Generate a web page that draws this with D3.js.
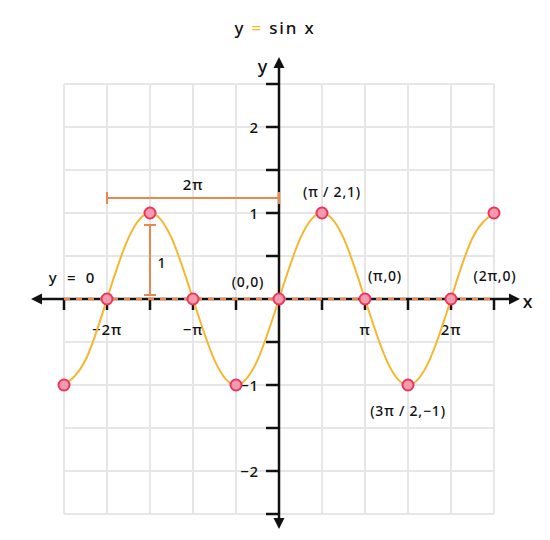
<!DOCTYPE html>
<html>
<head>
<meta charset="utf-8">
<title>y = sin x</title>
<script src="https://d3js.org/d3.v7.min.js"></script>
<style>
  body { margin: 0; background: #fff; }
  text { font-family: "Noto Sans", "DejaVu Sans", sans-serif; fill: #111; font-weight: 500; letter-spacing: 0.8px; }
</style>
</head>
<body>
<div id="chart"></div>
<script>
// x values are in units of pi
const curveX = [-2.5, -2.25, -2, -1.75, -1.5, -1.25, -1, -0.75, -0.5, -0.25, 0,
                0.25, 0.5, 0.75, 1, 1.25, 1.5, 1.75, 2, 2.25, 2.5];
const curveY = [-1, -0.71, 0, 0.71, 1, 0.71, 0, -0.71, -1, -0.71, 0,
                0.71, 1, 0.71, 0, -0.71, -1, -0.71, 0, 0.71, 1];
const dotX = [-2.5, -2, -1.5, -1, -0.5, 0, 0.5, 1, 1.5, 2, 2.5];
const dotY = [-1, 0, 1, 0, -1, 0, 1, 0, -1, 0, 1];
const xTicks = [-2.5, -2, -1.5, -1, -0.5, 0.5, 1, 1.5, 2, 2.5];
const xTickLabels = { "-2": "\u22122\u03c0", "-1": "\u2212\u03c0", "1": "\u03c0", "2": "2\u03c0" };
const yTicks = [-2.5, -2, -1.5, -1, -0.5, 0.5, 1, 1.5, 2, 2.5];
const yTickLabels = { "-2": "\u22122", "-1": "\u22121", "1": "1", "2": "2" };
const gridX = [-2.5, -2, -1.5, -1, -0.5, 0, 0.5, 1, 1.5, 2, 2.5];
const gridY = [-2.5, -2, -1.5, -1, -0.5, 0, 0.5, 1, 1.5, 2, 2.5];
const pointLabels = [
  { x: 0, y: 0, text: "(0,0)", dx: -31, dy: -12 },
  { x: 0.5, y: 1, text: "(\u03c0 / 2,1)", dx: 10, dy: -16 },
  { x: 1, y: 0, text: "(\u03c0,0)", dx: 20, dy: -18 },
  { x: 2, y: 0, text: "(2\u03c0,0)", dx: 44, dy: -18 },
  { x: 1.5, y: -1, text: "(3\u03c0 / 2,\u22121)", dx: 0, dy: 31 }
];

const width = 550, height = 540;
const orange = "#e8874f", gold = "#f5b731";

const svg = d3.select("#chart").append("svg")
  .attr("width", width).attr("height", height);

const x = d3.scaleLinear().domain([-2.5, 2.5]).range([64, 494]);
const y = d3.scaleLinear().domain([-2.5, 2.5]).range([514, 84]);

// title
const title = svg.append("text").attr("x", 275).attr("y", 34)
  .attr("text-anchor", "middle").style("font-size", "17px").style("letter-spacing", "1.8px");
title.append("tspan").text("y ");
title.append("tspan").text("=").style("fill", gold);
title.append("tspan").text(" sin x");

// grid
svg.append("g").selectAll("line").data(gridX).join("line")
  .attr("x1", d => x(d)).attr("x2", d => x(d))
  .attr("y1", y(2.5)).attr("y2", y(-2.5))
  .attr("stroke", "#e6e6e6").attr("stroke-width", 2);
svg.append("g").selectAll("line").data(gridY).join("line")
  .attr("y1", d => y(d)).attr("y2", d => y(d))
  .attr("x1", x(-2.5)).attr("x2", x(2.5))
  .attr("stroke", "#e6e6e6").attr("stroke-width", 2);

// arrow markers
const defs = svg.append("defs");
defs.append("marker").attr("id", "arr").attr("viewBox", "0 0 10 10")
  .attr("refX", 2).attr("refY", 5).attr("markerWidth", 4.5).attr("markerHeight", 4.5)
  .attr("orient", "auto-start-reverse")
  .append("path").attr("d", "M0,0 L10,5 L0,10 z").attr("fill", "#111");

// x axis
svg.append("line").attr("x1", 40).attr("x2", 511)
  .attr("y1", y(0)).attr("y2", y(0))
  .attr("stroke", "#111").attr("stroke-width", 2.5)
  .attr("marker-start", "url(#arr)").attr("marker-end", "url(#arr)");
svg.append("g").selectAll("line").data(xTicks).join("line")
  .attr("x1", d => x(d)).attr("x2", d => x(d))
  .attr("y1", y(0)).attr("y2", y(0) + 11)
  .attr("stroke", "#111").attr("stroke-width", 2.5);
svg.append("g").selectAll("text").data(xTicks.filter(d => xTickLabels[d])).join("text")
  .attr("x", d => x(d)).attr("y", d => y(0) + 36)
  .attr("text-anchor", "middle").style("font-size", "15px")
  .text(d => xTickLabels[d]);
svg.append("text").attr("x", 528).attr("y", y(0) + 9)
  .attr("text-anchor", "middle").style("font-size", "18px").text("x");

// y axis
svg.append("line").attr("x1", x(0)).attr("x2", x(0))
  .attr("y1", 520).attr("y2", 66)
  .attr("stroke", "#111").attr("stroke-width", 2.5)
  .attr("marker-start", "url(#arr)").attr("marker-end", "url(#arr)");
svg.append("g").selectAll("line").data(yTicks).join("line")
  .attr("x1", x(0) - 13).attr("x2", x(0))
  .attr("y1", d => y(d)).attr("y2", d => y(d))
  .attr("stroke", "#111").attr("stroke-width", 2.5);
svg.append("g").selectAll("text").data(yTicks.filter(d => yTickLabels[d])).join("text")
  .attr("x", x(0) - 20).attr("y", d => y(d) + 6)
  .attr("text-anchor", "end").style("font-size", "15px")
  .text(d => yTickLabels[d]);
svg.append("text").attr("x", 263).attr("y", 73)
  .attr("text-anchor", "middle").style("font-size", "18px").text("y");

// y = 0 dashed midline
svg.append("line").attr("x1", x(-2.5)).attr("x2", x(2.5))
  .attr("y1", y(0)).attr("y2", y(0))
  .attr("stroke", orange).attr("stroke-width", 2.5).attr("stroke-dasharray", "6,6");
svg.append("text").attr("x", 72).attr("y", y(0) - 16)
  .attr("text-anchor", "middle").style("font-size", "15px")
  .text("y\u00a0\u00a0=\u00a0\u00a00");

// period bracket (2pi)
const pY = 198;
const period = svg.append("g").attr("stroke", orange).attr("stroke-width", 2);
period.append("line").attr("x1", x(-2)).attr("x2", x(0)).attr("y1", pY).attr("y2", pY);
period.append("line").attr("x1", x(-2)).attr("x2", x(-2)).attr("y1", pY - 6).attr("y2", pY + 6);
period.append("line").attr("x1", x(0)).attr("x2", x(0)).attr("y1", pY - 6).attr("y2", pY + 6);
svg.append("text").attr("x", x(-1)).attr("y", pY - 8)
  .attr("text-anchor", "middle").style("font-size", "15px").text("2\u03c0");

// amplitude bracket (1)
const aX = x(-1.5), aTop = y(1) + 12, aBot = y(0) - 4;
const amp = svg.append("g").attr("stroke", orange).attr("stroke-width", 2);
amp.append("line").attr("x1", aX).attr("x2", aX).attr("y1", aTop).attr("y2", aBot);
amp.append("line").attr("x1", aX - 6).attr("x2", aX + 6).attr("y1", aTop).attr("y2", aTop);
amp.append("line").attr("x1", aX - 6).attr("x2", aX + 6).attr("y1", aBot).attr("y2", aBot);
svg.append("text").attr("x", aX + 12).attr("y", y(0.36))
  .attr("text-anchor", "middle").style("font-size", "14px").text("1");

// curve
const line = d3.line().x((d, i) => x(d)).y((d, i) => y(curveY[i])).curve(d3.curveNatural);
svg.append("path").attr("d", line(curveX))
  .attr("fill", "none").attr("stroke", gold).attr("stroke-width", 2);

// dots
svg.append("g").selectAll("circle").data(dotX).join("circle")
  .attr("cx", d => x(d)).attr("cy", (d, i) => y(dotY[i])).attr("r", 5.5)
  .attr("fill", "#f39aae").attr("stroke", "#e8375e").attr("stroke-width", 2);

// point labels
svg.append("g").selectAll("text").data(pointLabels).join("text")
  .attr("x", d => x(d.x) + d.dx).attr("y", d => y(d.y) + d.dy)
  .attr("text-anchor", "middle").style("font-size", "14px")
  .text(d => d.text);
</script>
</body>
</html>
